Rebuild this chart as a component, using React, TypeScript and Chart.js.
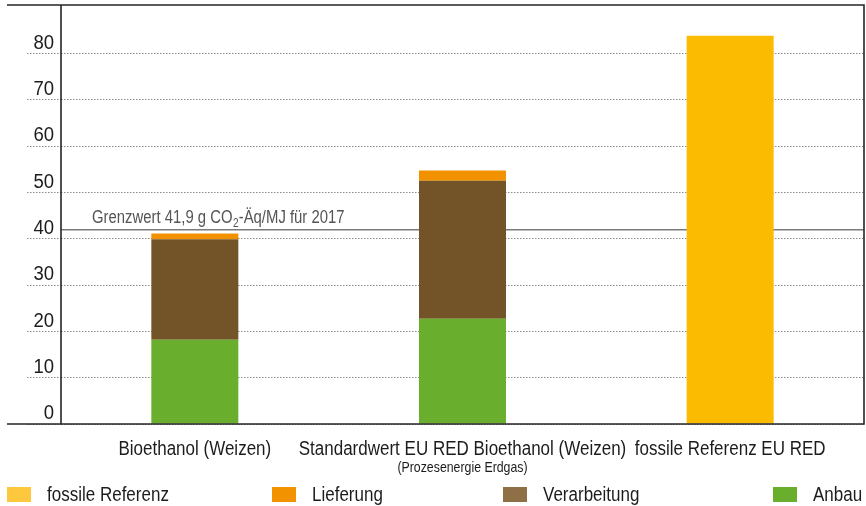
import { useEffect, useRef } from 'react';
import { Chart, registerables } from 'chart.js';

Chart.register(...registerables);

// Treibhausgasemissionen in g CO2-Äq/MJ
const categories = ['Bioethanol (Weizen)', 'Standardwert EU RED Bioethanol (Weizen)', 'fossile Referenz EU RED'];
const categoryNotes = ['', '(Prozesenergie Erdgas)', ''];

const anbau = [18.2, 22.7, null];
const verarbeitung = [21.7, 29.8, null];
const lieferung = [1.2, 2.2, null];
const fossileReferenz = [null, null, 83.8];

const grenzwert = 41.9;
const grenzwertLabel = ['Grenzwert 41,9 g CO', '2', '-Äq/MJ für 2017'];

const yMax = 90;
const yStep = 10;
const yLabelMax = 80;

const seriesLabels = ['Anbau', 'Verarbeitung', 'Lieferung', 'fossile Referenz'];
const barColors = ['#69ae2d', '#735428', '#f39200', '#fabb00'];
const legendColors = ['#69ae2d', '#8f6f45', '#f39200', '#fdc73e'];
const legendOrder = [3, 2, 1, 0];
const legendX = [7, 272, 503, 773];

const FONT = '"Liberation Sans", Arial, sans-serif';
const TEXT = '#1c1c1c';
const FRAME = '#262626';
const GRID = '#8a8a8a';

// narrow type: Liberation Sans squeezed horizontally
function drawText(
  ctx: CanvasRenderingContext2D,
  text: string,
  x: number,
  y: number,
  size: number,
  align: CanvasTextAlign,
  baseline: CanvasTextBaseline,
  color: string,
  squeeze = 0.85,
) {
  ctx.save();
  ctx.translate(x, y);
  ctx.scale(squeeze, 1);
  ctx.font = `${size}px ${FONT}`;
  ctx.fillStyle = color;
  ctx.textAlign = align;
  ctx.textBaseline = baseline;
  ctx.fillText(text, 0, 0);
  const w = ctx.measureText(text).width * squeeze;
  ctx.restore();
  return w;
}

const grenzwertPlugin = {
  id: 'grenzwert',
  beforeDatasetsDraw(chart: any) {
    const { ctx, chartArea, scales } = chart;
    const y = scales.y.getPixelForValue(grenzwert);
    ctx.save();
    ctx.strokeStyle = '#7a7a7a';
    ctx.lineWidth = 1.5;
    ctx.beginPath();
    ctx.moveTo(chartArea.left, y);
    ctx.lineTo(chartArea.right, y);
    ctx.stroke();
    ctx.restore();

    const base = y - 7;
    let x = chartArea.left + 31;
    x += drawText(ctx, grenzwertLabel[0], x, base, 17.5, 'left', 'alphabetic', '#555555');
    x += drawText(ctx, grenzwertLabel[1], x + 0.5, base + 4, 12, 'left', 'alphabetic', '#555555') + 0.5;
    drawText(ctx, grenzwertLabel[2], x, base, 17.5, 'left', 'alphabetic', '#555555');
  },
};

const framePlugin = {
  id: 'frame',
  afterDatasetsDraw(chart: any) {
    const { ctx, chartArea } = chart;
    const top = chartArea.top - 2;
    ctx.save();
    ctx.strokeStyle = FRAME;
    ctx.lineWidth = 1.6;
    ctx.beginPath();
    ctx.moveTo(7, top);
    ctx.lineTo(chartArea.right, top);
    ctx.lineTo(chartArea.right, chartArea.bottom);
    ctx.lineTo(7, chartArea.bottom);
    ctx.moveTo(chartArea.left, top);
    ctx.lineTo(chartArea.left, chartArea.bottom);
    ctx.stroke();
    ctx.restore();
  },
};

const labelsPlugin = {
  id: 'axisLabels',
  afterDraw(chart: any) {
    const { ctx, scales, chartArea } = chart;
    // y tick labels sit just above their grid line
    scales.y.ticks.forEach((t: any) => {
      const y = scales.y.getPixelForValue(t.value);
      drawText(ctx, String(t.value), chartArea.left - 7, y - 10, 19.5, 'right', 'middle', TEXT, 0.95);
    });
    // category labels
    categories.forEach((label, i) => {
      const x = scales.x.getPixelForValue(i);
      drawText(ctx, label, x, chartArea.bottom + 31, 20, 'center', 'alphabetic', TEXT);
      if (categoryNotes[i]) {
        drawText(ctx, categoryNotes[i], x, chartArea.bottom + 48, 14.5, 'center', 'alphabetic', TEXT);
      }
    });
  },
};

const legendPlugin = {
  id: 'bottomLegend',
  afterDraw(chart: any) {
    const { ctx } = chart;
    const datasets = chart.data.datasets;
    legendOrder.forEach((di, k) => {
      const x = legendX[k];
      ctx.save();
      ctx.fillStyle = legendColors[di];
      ctx.fillRect(x, 487, 24, 15);
      ctx.restore();
      drawText(ctx, datasets[di].label, x + 40, 495, 20, 'left', 'middle', TEXT);
    });
  },
};

export default function App() {
  const canvasRef = useRef<HTMLCanvasElement | null>(null);

  useEffect(() => {
    document.body.style.margin = '0';
    const canvas = canvasRef.current;
    if (!canvas) return;

    const series = [anbau, verarbeitung, lieferung, fossileReferenz];
    const chart = new Chart(canvas, {
      type: 'bar',
      data: {
        labels: categories,
        datasets: series.map((data, i) => ({
          label: seriesLabels[i],
          data,
          backgroundColor: barColors[i],
          borderWidth: 0,
          barPercentage: 0.325,
          categoryPercentage: 1,
        })),
      },
      options: {
        responsive: false,
        animation: false,
        devicePixelRatio: 1,
        layout: { padding: { left: 0, right: 2, top: 7, bottom: 0 } },
        plugins: {
          legend: { display: false },
          tooltip: { enabled: false },
          title: { display: false },
        },
        scales: {
          x: {
            stacked: true,
            grid: { display: false, drawTicks: false },
            border: { display: false },
            ticks: { display: false },
            afterFit(scale: any) {
              scale.height = 82;
            },
          },
          y: {
            stacked: true,
            min: 0,
            max: yMax,
            grid: {
              color: GRID,
              lineWidth: 1,
              drawTicks: true,
              tickLength: 34,
              tickColor: GRID,
              tickWidth: 1,
              tickBorderDash: [1.5, 1.5],
            },
            border: { display: false, dash: [1.5, 1.5] },
            ticks: { display: false, stepSize: yStep },
            afterBuildTicks(scale: any) {
              scale.ticks = scale.ticks.filter((t: any) => t.value <= yLabelMax);
            },
            afterFit(scale: any) {
              scale.width = 61;
            },
          },
        },
      },
      plugins: [grenzwertPlugin, framePlugin, labelsPlugin, legendPlugin],
    });

    return () => chart.destroy();
  }, []);

  return <canvas ref={canvasRef} width={866} height={506} style={{ display: 'block' }} />;
}
